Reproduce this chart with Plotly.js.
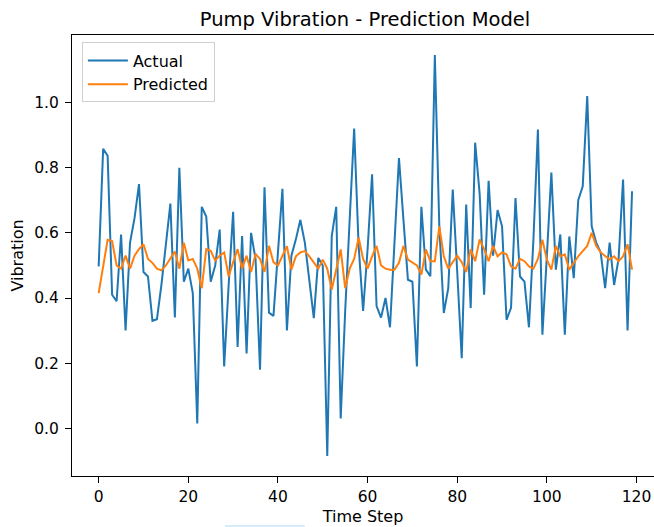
<!DOCTYPE html>
<html>
<head>
<meta charset="utf-8">
<script src="https://cdn.plot.ly/plotly-3.0.1.min.js"></script>
<style>
html,body{margin:0;padding:0;background:#fff;}
#chart{width:654px;height:527px;}
</style>
</head>
<body>
<div id="chart"></div>
<script>
// Data
const actual = [
  0.497, 0.858, 0.837, 0.41, 0.39, 0.595, 0.30, 0.57, 0.645, 0.75,
  0.48, 0.466, 0.33, 0.335, 0.44, 0.57, 0.69, 0.34, 0.80, 0.45,
  0.49, 0.415, 0.015, 0.68, 0.65, 0.45, 0.50, 0.61, 0.19, 0.44,
  0.665, 0.25, 0.59, 0.23, 0.60, 0.52, 0.18, 0.74, 0.355, 0.345,
  0.55, 0.735, 0.30, 0.53, 0.58, 0.64, 0.57, 0.46, 0.338, 0.523,
  0.50, -0.085, 0.59, 0.68, 0.03, 0.36, 0.66, 0.92, 0.56, 0.36,
  0.55, 0.78, 0.375, 0.34, 0.40, 0.31, 0.57, 0.83, 0.64, 0.456,
  0.45, 0.19, 0.68, 0.487, 0.467, 1.146, 0.62, 0.354, 0.43, 0.733,
  0.48, 0.215, 0.687, 0.369, 0.877, 0.72, 0.41, 0.76, 0.53, 0.67,
  0.62, 0.333, 0.37, 0.707, 0.466, 0.45, 0.31, 0.58, 0.917, 0.287,
  0.53, 0.785, 0.487, 0.595, 0.287, 0.589, 0.461, 0.70, 0.743, 1.02,
  0.62, 0.57, 0.54, 0.43, 0.57, 0.44, 0.52, 0.764, 0.30, 0.728
];
const predicted = [
  0.415, 0.50, 0.579, 0.575, 0.50, 0.49, 0.53, 0.49, 0.53, 0.55,
  0.565, 0.52, 0.508, 0.49, 0.485, 0.50, 0.52, 0.543, 0.49, 0.57,
  0.515, 0.52, 0.49, 0.43, 0.55, 0.545, 0.515, 0.53, 0.54, 0.466,
  0.51, 0.55, 0.49, 0.53, 0.48, 0.535, 0.52, 0.48, 0.56, 0.51,
  0.50, 0.53, 0.559, 0.487, 0.528, 0.54, 0.544, 0.528, 0.51, 0.49,
  0.518, 0.49, 0.426, 0.487, 0.549, 0.43, 0.49, 0.52, 0.585, 0.52,
  0.49, 0.528, 0.56, 0.50, 0.49, 0.487, 0.487, 0.508, 0.56, 0.518,
  0.508, 0.50, 0.472, 0.549, 0.513, 0.513, 0.62, 0.528, 0.49, 0.51,
  0.53, 0.51, 0.48, 0.55, 0.513, 0.58, 0.55, 0.513, 0.56, 0.528,
  0.54, 0.534, 0.497, 0.49, 0.52, 0.513, 0.497, 0.49, 0.52, 0.579,
  0.518, 0.487, 0.56, 0.528, 0.534, 0.487, 0.508, 0.528, 0.544, 0.56,
  0.60, 0.56, 0.54, 0.528, 0.518, 0.528, 0.513, 0.528, 0.565, 0.487
];
const timeSteps = actual.map((_, i) => i);
const xTicks = [0, 20, 40, 60, 80, 100, 120];
const yTicks = [0.0, 0.2, 0.4, 0.6, 0.8, 1.0];
const seriesNames = ["Actual", "Predicted"];
const titleText = "Pump Vibration - Prediction Model";
const xLabel = "Time Step";
const yLabel = "Vibration";

const FONT = "DejaVu Sans, Liberation Sans, sans-serif";

const traces = [
  {x: timeSteps, y: actual, type: "scatter", mode: "lines", name: seriesNames[0],
   line: {color: "#1f77b4", width: 2}},
  {x: timeSteps, y: predicted, type: "scatter", mode: "lines", name: seriesNames[1],
   line: {color: "#ff7f0e", width: 2}}
];

const layout = {
  width: 654, height: 527,
  margin: {l: 72, r: 0, t: 35, b: 51},
  paper_bgcolor: "#ffffff", plot_bgcolor: "#ffffff",
  font: {family: FONT, color: "#000000", size: 16},
  title: {text: titleText, font: {family: FONT, size: 19.5, color: "#000"},
          xref: "paper", x: 0.5034, xanchor: "center",
          yref: "container", y: 1 - 19/527, yanchor: "middle"},
  xaxis: {
    range: [-5.95, 123.9], tickvals: xTicks, ticktext: xTicks.map(String),
    showgrid: false, zeroline: false, showline: true, linecolor: "#000", linewidth: 1,
    mirror: true, ticks: "outside", ticklen: 6, tickwidth: 1, tickcolor: "#000",
    tickfont: {family: FONT, size: 15.5, color: "#000"},
    title: {text: xLabel, font: {family: FONT, size: 16, color: "#000"}, standoff: 6}
  },
  yaxis: {
    range: [-0.1466, 1.2076], tickvals: yTicks, ticktext: yTicks.map(v => v.toFixed(1)),
    showgrid: false, zeroline: false, showline: true, linecolor: "#000", linewidth: 1,
    mirror: false, ticks: "outside", ticklen: 6, tickwidth: 1, tickcolor: "#000",
    ticklabelstandoff: 3,
    tickfont: {family: FONT, size: 15.5, color: "#000"},
    title: {text: yLabel, font: {family: FONT, size: 16, color: "#000"}, standoff: 6}
  },
  showlegend: true,
  legend: {x: 0.017, y: 0.983, xanchor: "left", yanchor: "top",
           itemwidth: 40,
           bgcolor: "rgba(255,255,255,0.8)", bordercolor: "#d0d0d0", borderwidth: 1,
           font: {family: FONT, size: 16, color: "#000"}},
  shapes: [
    {type: "rect", xref: "paper", yref: "paper", x0: 0.263, x1: 0.40, y0: -0.1156, y1: -0.111,
     line: {width: 0}, fillcolor: "#d6ecfb"}
  ]
};

Plotly.newPlot("chart", traces, layout, {displayModeBar: false, staticPlot: true});
</script>
</body>
</html>
